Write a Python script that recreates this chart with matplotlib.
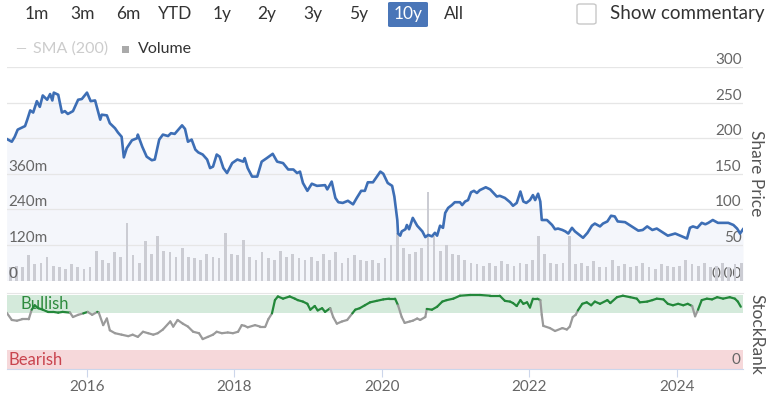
import numpy as np
import matplotlib.pyplot as plt
from matplotlib.collections import LineCollection
from matplotlib.patches import FancyBboxPatch, Rectangle

plt.rcParams['font.family'] = ['Lato', 'DejaVu Sans']

# share price (decimal year, price)
price_t = [2014.91, 2014.98, 2015.02, 2015.06, 2015.16, 2015.19, 2015.23, 2015.27, 2015.32, 2015.36,
           2015.40, 2015.46, 2015.50, 2015.53, 2015.55, 2015.61, 2015.66, 2015.70, 2015.74, 2015.81,
           2015.88, 2015.93, 2016.00, 2016.05, 2016.11, 2016.18, 2016.20, 2016.27, 2016.31, 2016.38,
           2016.42, 2016.47, 2016.50, 2016.54, 2016.61, 2016.68, 2016.69, 2016.75, 2016.81, 2016.88,
           2016.92, 2016.98, 2017.03, 2017.10, 2017.14, 2017.19, 2017.29, 2017.33, 2017.37, 2017.42,
           2017.47, 2017.51, 2017.57, 2017.63, 2017.67, 2017.71, 2017.76, 2017.80, 2017.85, 2017.90,
           2017.97, 2018.04, 2018.12, 2018.14, 2018.18, 2018.24, 2018.31, 2018.37, 2018.44, 2018.52,
           2018.58, 2018.66, 2018.73, 2018.80, 2018.85, 2018.89, 2018.93, 2018.99, 2019.05, 2019.12,
           2019.23, 2019.26, 2019.32, 2019.37, 2019.41, 2019.47, 2019.54, 2019.61, 2019.66, 2019.72,
           2019.77, 2019.81, 2019.88, 2019.98, 2020.02, 2020.08, 2020.14, 2020.17, 2020.21, 2020.22,
           2020.25, 2020.27, 2020.32, 2020.34, 2020.37, 2020.42, 2020.48, 2020.55, 2020.59, 2020.63,
           2020.68, 2020.72, 2020.75, 2020.79, 2020.83, 2020.86, 2020.90, 2020.95, 2020.99, 2021.06,
           2021.09, 2021.13, 2021.17, 2021.21, 2021.25, 2021.29, 2021.33, 2021.41, 2021.47, 2021.56,
           2021.60, 2021.67, 2021.74, 2021.78, 2021.83, 2021.88, 2021.92, 2021.96, 2022.01, 2022.05,
           2022.08, 2022.12, 2022.15, 2022.17, 2022.24, 2022.31, 2022.35, 2022.39, 2022.45, 2022.49,
           2022.53, 2022.58, 2022.62, 2022.68, 2022.73, 2022.79, 2022.85, 2022.89, 2022.96, 2023.00,
           2023.06, 2023.11, 2023.16, 2023.20, 2023.30, 2023.39, 2023.48, 2023.54, 2023.60, 2023.67,
           2023.73, 2023.82, 2023.88, 2023.98, 2024.05, 2024.14, 2024.18, 2024.22, 2024.28, 2024.34,
           2024.39, 2024.43, 2024.49, 2024.56, 2024.63, 2024.70, 2024.77, 2024.82, 2024.86, 2024.90]
price = [199, 195, 202, 212, 217, 226, 239, 236, 252, 244,
         260, 254, 262, 253, 264, 261, 236, 238, 234, 238,
         254, 255, 264, 252, 253, 226, 233, 232, 221, 214,
         208, 202, 173, 186, 197, 200, 205, 188, 174, 169,
         170, 198, 205, 203, 207, 206, 218, 213, 195, 198,
         184, 180, 177, 170, 158, 160, 177, 174, 158, 151,
         165, 170, 167, 172, 158, 146, 146, 167, 172, 178,
         167, 165, 156, 156, 151, 153, 137, 126, 136, 133,
         134, 128, 139, 116, 110, 109, 112, 107, 116, 126,
         126, 138, 138, 153, 150, 137, 133, 118, 85, 66,
         63, 69, 72, 78, 72, 88, 77, 69, 61, 64,
         62, 67, 63, 77, 74, 95, 102, 106, 110, 110,
         106, 111, 113, 124, 126, 123, 127, 131, 128, 118,
         119, 116, 110, 105, 109, 125, 111, 109, 113, 120,
         113, 122, 111, 85, 85, 78, 72, 73, 71, 69,
         66, 74, 69, 64, 60, 67, 77, 80, 76, 80,
         83, 91, 90, 83, 82, 76, 70, 71, 76, 71,
         73, 67, 63, 66, 63, 59, 74, 76, 74, 81,
         79, 81, 85, 81, 81, 81, 78, 73, 66, 72]

# StockRank (decimal year, rank 0-100)
rank_t = [2014.91, 2014.98, 2015.05, 2015.12, 2015.21, 2015.25, 2015.29, 2015.34, 2015.40, 2015.47,
          2015.54, 2015.61, 2015.67, 2015.77, 2015.81, 2015.88, 2015.95, 2016.01, 2016.07, 2016.14,
          2016.16, 2016.22, 2016.27, 2016.31, 2016.38, 2016.47, 2016.56, 2016.62, 2016.69, 2016.76,
          2016.83, 2016.90, 2016.96, 2017.03, 2017.13, 2017.17, 2017.23, 2017.30, 2017.37, 2017.44,
          2017.52, 2017.57, 2017.64, 2017.71, 2017.76, 2017.83, 2017.91, 2017.98, 2018.05, 2018.10,
          2018.14, 2018.18, 2018.28, 2018.35, 2018.42, 2018.46, 2018.51, 2018.55, 2018.59, 2018.66,
          2018.75, 2018.82, 2018.86, 2018.93, 2018.99, 2019.03, 2019.09, 2019.13, 2019.19, 2019.23,
          2019.30, 2019.34, 2019.39, 2019.46, 2019.53, 2019.60, 2019.64, 2019.70, 2019.77, 2019.84,
          2019.93, 2020.02, 2020.10, 2020.18, 2020.22, 2020.27, 2020.31, 2020.38, 2020.42, 2020.48,
          2020.52, 2020.59, 2020.61, 2020.68, 2020.75, 2020.82, 2020.88, 2020.97, 2021.06, 2021.20,
          2021.33, 2021.47, 2021.60, 2021.67, 2021.74, 2021.78, 2021.83, 2021.88, 2021.92, 2021.97,
          2022.01, 2022.05, 2022.11, 2022.15, 2022.17, 2022.19, 2022.28, 2022.35, 2022.45, 2022.51,
          2022.55, 2022.59, 2022.63, 2022.66, 2022.72, 2022.78, 2022.84, 2022.89, 2022.96, 2023.06,
          2023.10, 2023.19, 2023.27, 2023.37, 2023.46, 2023.50, 2023.60, 2023.67, 2023.73, 2023.82,
          2023.88, 2023.95, 2024.02, 2024.09, 2024.15, 2024.21, 2024.25, 2024.29, 2024.34, 2024.41,
          2024.48, 2024.55, 2024.63, 2024.72, 2024.79, 2024.83, 2024.87]
rank = [76, 66, 65, 67, 67, 80, 86, 82, 80, 77,
        77, 76, 77, 76, 70, 73, 75, 77, 73, 77,
        76, 59, 68, 52, 48, 46, 44, 46, 43, 50,
        48, 46, 48, 53, 64, 57, 66, 61, 57, 50,
        48, 40, 43, 46, 50, 48, 49, 48, 50, 59,
        58, 56, 59, 57, 57, 67, 75, 93, 98, 95,
        98, 95, 93, 91, 88, 80, 85, 79, 82, 77,
        82, 70, 61, 64, 66, 75, 80, 82, 86, 90,
        92, 94, 95, 95, 86, 70, 62, 64, 65, 68,
        66, 70, 81, 80, 84, 91, 93, 95, 99, 100,
        100, 99, 99, 92, 91, 89, 85, 93, 88, 90,
        83, 95, 95, 93, 73, 58, 55, 51, 55, 53,
        57, 70, 73, 79, 88, 90, 86, 91, 88, 93,
        89, 97, 99, 97, 95, 90, 91, 93, 95, 94,
        88, 86, 88, 86, 88, 85, 71, 80, 93, 95,
        94, 97, 95, 97, 95, 91, 84]

# monthly volume in millions, Dec 2014 .. Nov 2024
vol_start = 2014 + 11 / 12
volume = [45,
          50, 45, 85, 55, 60, 80, 50, 45, 40, 55, 45, 40,
          45, 100, 70, 60, 95, 80, 195, 85, 60, 133, 90, 150,
          100, 95, 80, 110, 80, 75, 70, 90, 80, 75, 160, 90,
          85, 135, 80, 70, 95, 75, 70, 100, 80, 90, 75, 70,
          80, 65, 90, 70, 95, 60, 75, 85, 70, 65, 70, 60,
          75, 120, 160, 110, 90, 95, 110, 300, 150, 100, 120, 90,
          85, 70, 60, 55, 50, 60, 50, 65, 55, 50, 60, 55,
          70, 150, 90, 60, 55, 60, 150, 55, 60, 50, 65, 45,
          45, 70, 50, 55, 45, 50, 60, 45, 40, 55, 50, 45,
          50, 70, 55, 50, 60, 45, 50, 60, 45, 55, 60]

buttons = ["1m", "3m", "6m", "YTD", "1y", "2y", "3y", "5y", "10y", "All"]
years = [2016, 2018, 2020, 2022, 2024]
price_ticks = [0, 50, 100, 150, 200, 250, 300]
vol_ticks = [0, 120, 240, 360]

W, H = 766, 394
fig = plt.figure(figsize=(7.66, 3.94), dpi=100)


def box(l, t, r, b):
    return [l / W, 1 - b / H, (r - l) / W, (b - t) / H]


def px(x, y):
    return x / W, 1 - y / H


x0, x1 = 2014.915, 2024.90

# ---- price panel
ax = fig.add_axes(box(7, 67, 743, 280.5))
axv = ax.twinx()
axp = ax.twinx()

ax.fill_between(price_t, price, 0, color='#f4f6fb', lw=0, zorder=1)
ax.set_xlim(x0, x1)
ax.set_ylim(0, 300)
ax.set_yticks(price_ticks)
ax.set_yticklabels(['0.00'] + [str(v) for v in price_ticks[1:]])
ax.yaxis.tick_right()
ax.tick_params(axis='y', length=0, pad=-1, labelcolor='#666666', labelsize=11)
for lab in ax.get_yticklabels():
    lab.set_ha('right')
    lab.set_va('bottom')
ax.grid(axis='y', color='#e6e6e6', lw=0.9)
ax.set_axisbelow(False)
ax.tick_params(axis='x', bottom=False, labelbottom=False)
for s in ax.spines.values():
    s.set_visible(False)

vol_t = vol_start + np.arange(len(volume)) / 12 + 1 / 24
axv.bar(vol_t, volume, width=0.45 / 12, color='#cbccd3', lw=0)
axv.set_ylim(0, 720)
axv.set_yticks(vol_ticks)
axv.set_yticklabels(['0', '120m', '240m', '360m'])
axv.yaxis.tick_left()
axv.tick_params(axis='y', length=0, pad=-1, labelcolor='#666666', labelsize=11)
for lab in axv.get_yticklabels():
    lab.set_ha('left')
    lab.set_va('bottom')
for s in axv.spines.values():
    s.set_visible(False)

axp.plot(price_t, price, color='#3d6eb5', lw=1.9, solid_joinstyle='round')
axp.set_ylim(0, 300)
axp.set_xlim(x0, x1)
axp.axis('off')

# ---- StockRank panel
axr = fig.add_axes(box(7, 293, 743, 368.5))
axr.set_xlim(x0, x1)
axr.set_ylim(0, 102.7)
axr.axhspan(75, 100, color='#d4eadb', lw=0)
axr.axhspan(0, 25, color='#f6d8da', lw=0)
pts = np.column_stack([rank_t, rank])
segs = np.stack([pts[:-1], pts[1:]], axis=1)
rk = np.array(rank)
cols = ['#23883a' if min(a, b) >= 75 else '#9a9a9a' for a, b in zip(rk[:-1], rk[1:])]
axr.add_collection(LineCollection(segs, colors=cols, lw=1.6, capstyle='round', zorder=3))
axr.text(2015.1, 88, 'Bullish', color='#2e8b3e', fontsize=12, va='center', zorder=2)
axr.text(2014.93, 12, 'Bearish', color='#c9444e', fontsize=12, va='center')
axr.text(x1 - 0.03, 12, '0', color='#666666', fontsize=11, va='center', ha='right')
axr.set_yticks([])
axr.set_xticks(years)
axr.set_xticklabels([str(y) for y in years])
axr.tick_params(axis='x', length=6, color='#ccd6eb', labelcolor='#666666', labelsize=11, pad=2)
for k in ['left', 'right']:
    axr.spines[k].set_visible(False)
axr.spines['top'].set_color('#e6e6e6')
axr.spines['bottom'].set_color('#ccd6eb')

fig.text(*px(756, 173), 'Share Price', rotation=270, ha='center', va='center', fontsize=12.5, color='#555555')
fig.text(*px(756, 334), 'StockRank', rotation=270, ha='center', va='center', fontsize=12.5, color='#555555')

# ---- range buttons
bx = [37, 83, 128, 175, 222, 267, 313, 359, 408, 454]
for name, x in zip(buttons, bx):
    c = '#333333'
    if name == '10y':
        fig.patches.append(FancyBboxPatch(px(388, 27), 40 / W, 25 / H, boxstyle='round,pad=0,rounding_size=0.003',
                                          transform=fig.transFigure, fc='#4a76b8', ec='none'))
        c = 'white'
    fig.text(*px(x, 14), name, ha='center', va='center', fontsize=12.5, color=c)

fig.patches.append(FancyBboxPatch(px(577, 24), 19 / W, 20 / H, boxstyle='round,pad=0,rounding_size=0.004',
                                  transform=fig.transFigure, fc='white', ec='#c8c8c8', lw=1))
fig.text(*px(610, 14), 'Show commentary', ha='left', va='center', fontsize=13.5, color='#333333')

# ---- legend
fig.text(*px(15, 49), '\u2014', ha='left', va='center', fontsize=10, color='#cccccc')
fig.text(*px(33, 49), 'SMA (200)', ha='left', va='center', fontsize=11.5, color='#cccccc')
fig.patches.append(Rectangle(px(122, 53), 7 / W, 7 / H, transform=fig.transFigure, fc='#aaaaaa', ec='none'))
fig.text(*px(138, 49), 'Volume', ha='left', va='center', fontsize=11.5, color='#333333')

fig.savefig('out.png', dpi=100)
